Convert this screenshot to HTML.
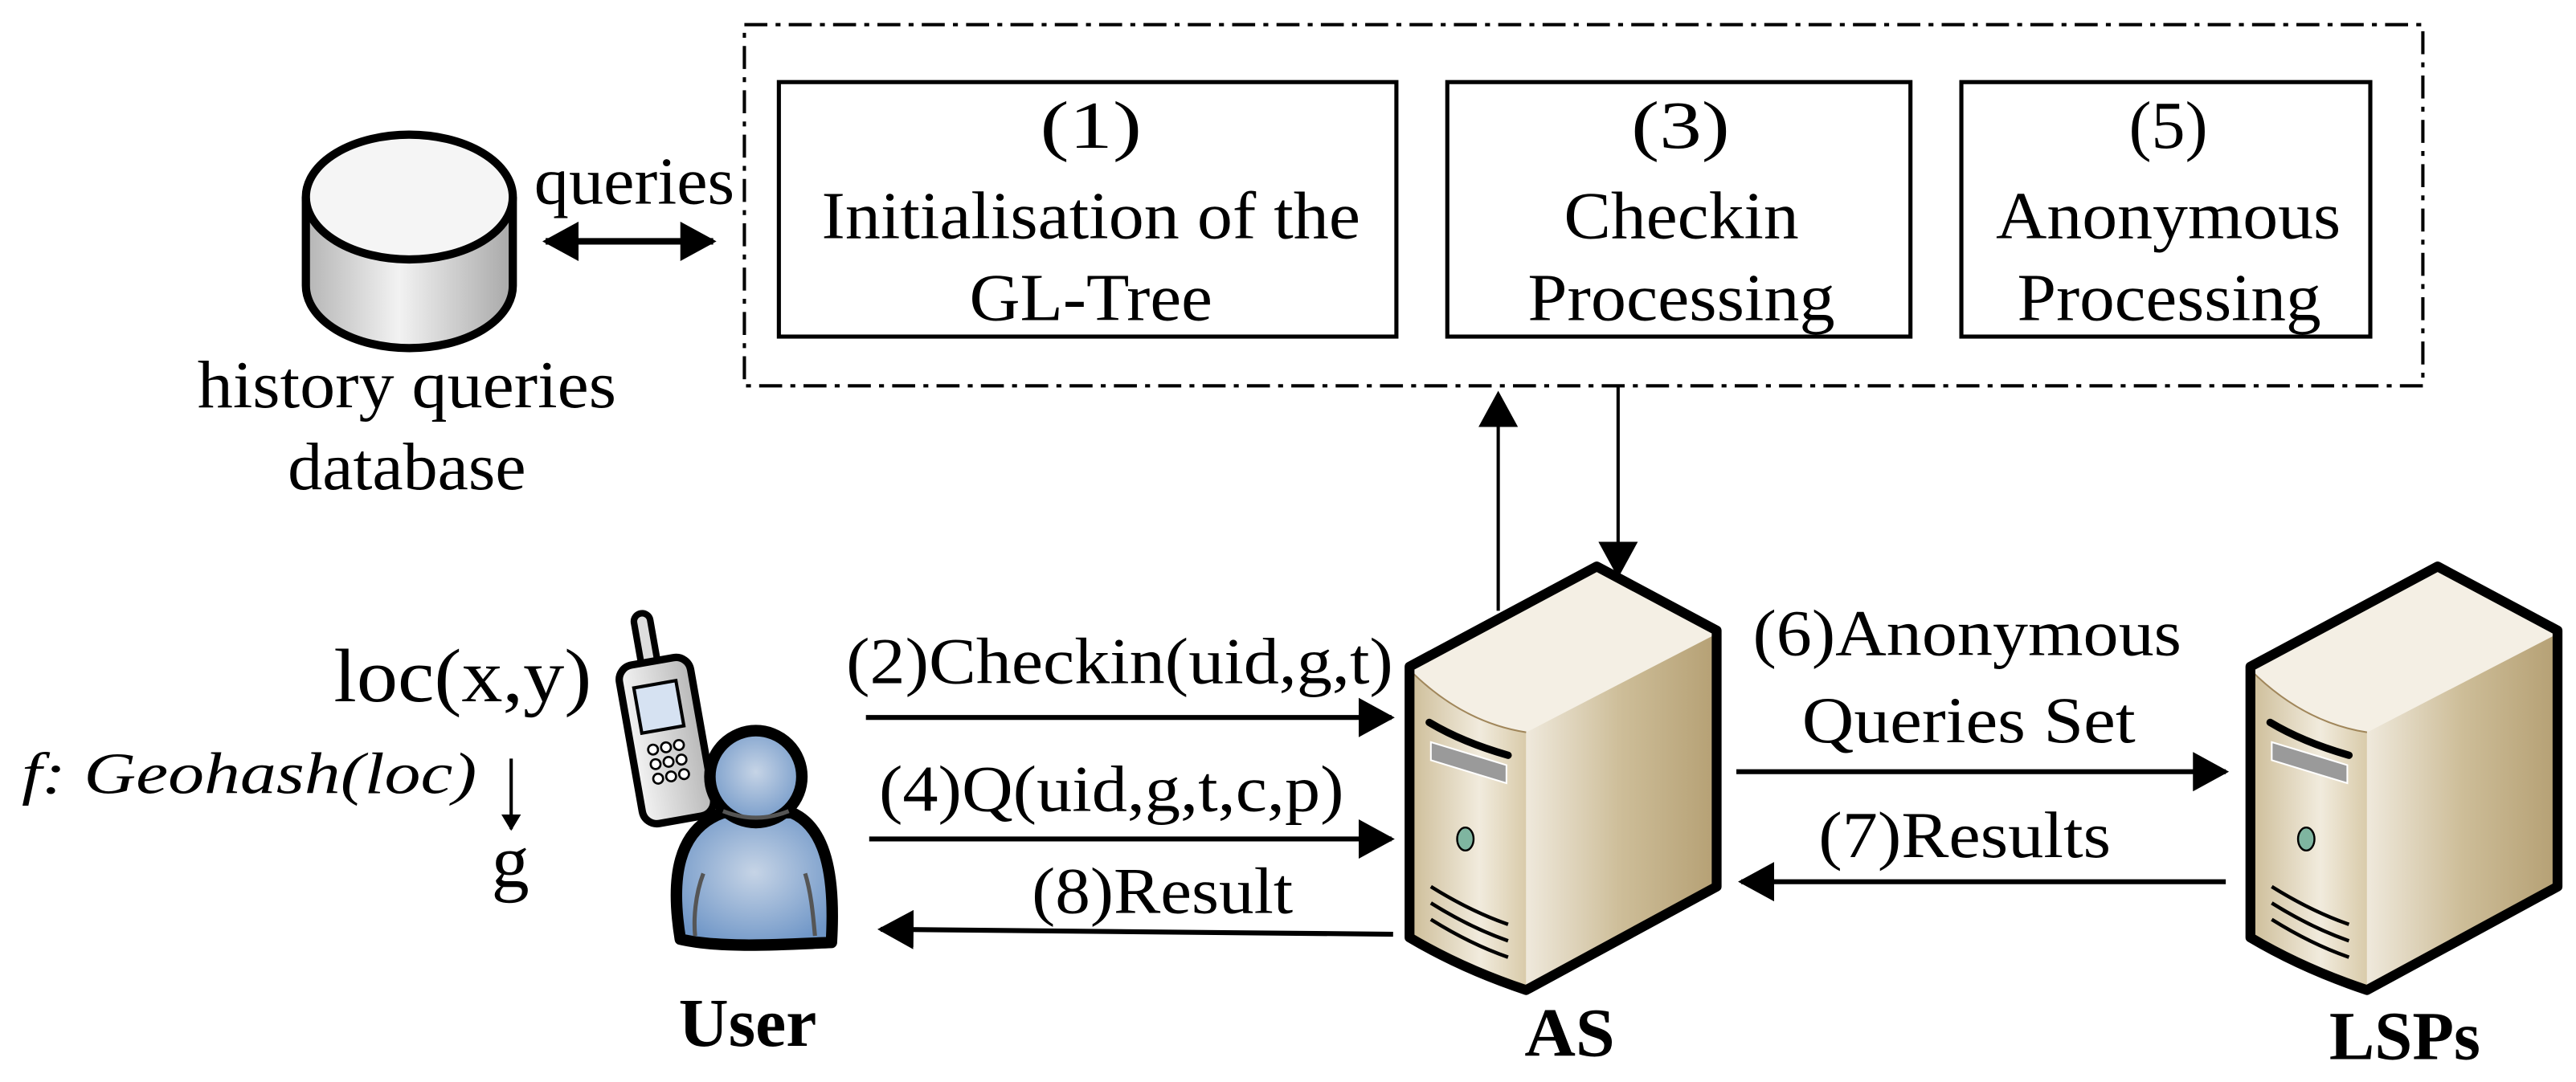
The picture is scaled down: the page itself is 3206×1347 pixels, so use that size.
<!DOCTYPE html>
<html><head><meta charset="utf-8"><style>
html,body{margin:0;padding:0;background:#fff}
svg{display:block}
text{font-family:"Liberation Serif",serif;fill:#000}
</style></head><body>
<svg width="3206" height="1347" viewBox="0 0 1568 659" xmlns="http://www.w3.org/2000/svg">
<defs>
<marker id="ah" markerWidth="10" markerHeight="12" refX="9" refY="6" orient="auto" markerUnits="userSpaceOnUse" viewBox="0 0 10 12"><path d="M0,0 L10,6 L0,12 z" fill="#000"/></marker>
<marker id="ahb" markerWidth="22" markerHeight="24" refX="20" refY="12" orient="auto-start-reverse" markerUnits="userSpaceOnUse" viewBox="0 0 22 24"><path d="M0,0 L22,12 L0,24 z" fill="#000"/></marker>
<linearGradient id="cyl" x1="0" x2="1"><stop offset="0" stop-color="#b5b5b5"/><stop offset="0.45" stop-color="#f2f2f2"/><stop offset="1" stop-color="#a8a8a8"/></linearGradient>
<linearGradient id="front" x1="0" x2="1"><stop offset="0" stop-color="#cdbd98"/><stop offset="0.6" stop-color="#f1ebdd"/><stop offset="1" stop-color="#d9cbaa"/></linearGradient>
<linearGradient id="side" x1="0" y1="0" x2="1" y2="0"><stop offset="0" stop-color="#efe9dc"/><stop offset="0.5" stop-color="#cdbd98"/><stop offset="1" stop-color="#b5a074"/></linearGradient>
<radialGradient id="usr" cx="0.5" cy="0.45" r="0.6"><stop offset="0" stop-color="#c6d4e6"/><stop offset="1" stop-color="#6f96c7"/></radialGradient>
<linearGradient id="ph" x1="0" x2="1"><stop offset="0" stop-color="#f4f4f4"/><stop offset="1" stop-color="#b8b8b8"/></linearGradient>
<g id="server">
<path d="M858,408 L972,347 L1045,386 L929,446 Q890,440 858,408 Z" fill="#f4efe4"/>
<path d="M858,408 Q890,440 929,446 L929,603 L858,571 Z" fill="url(#front)"/>
<path d="M929,446 L1045,386 L1045,540 L929,603 Z" fill="url(#side)"/>
<path d="M858,408 Q890,440 929,446" fill="none" stroke="#a0865a" stroke-width="1"/>
<path d="M858,406 L972,345 L1045,384 L1045,540 L929,603 Q890,590 858,571 Z" fill="none" stroke="#000" stroke-width="6" stroke-linejoin="round"/>
<path d="M870,440 Q890,452 918,460" stroke="#000" stroke-width="4.5" fill="none" stroke-linecap="round"/>
<path d="M871,452 L917,466 L917,477 L871,463 Z" fill="#9a9a9a" stroke="#fff" stroke-width="1"/>
<ellipse cx="892" cy="511" rx="5" ry="7" fill="#7fb5a0" stroke="#000" stroke-width="1.2"/>
<g stroke="#000" stroke-width="2.2" fill="none"><path d="M871,540 Q895,555 918,563"/><path d="M871,550 Q895,565 918,573"/><path d="M871,560 Q895,575 918,583"/></g>
</g>
</defs>

<!-- dash-dot box -->
<rect x="453" y="15" width="1022" height="220" fill="none" stroke="#000" stroke-width="2" stroke-dasharray="14,5,3,5"/>
<rect x="474" y="50" width="376" height="155" fill="#fff" stroke="#000" stroke-width="2.5"/>
<rect x="881" y="50" width="282" height="155" fill="#fff" stroke="#000" stroke-width="2.5"/>
<rect x="1194" y="50" width="249" height="155" fill="#fff" stroke="#000" stroke-width="2.5"/>
<g font-size="41">
<text x="633" y="90" textLength="62" lengthAdjust="spacingAndGlyphs">(1)</text>
<text x="500" y="145" textLength="328" lengthAdjust="spacingAndGlyphs">Initialisation of the</text>
<text x="590" y="195" textLength="148" lengthAdjust="spacingAndGlyphs">GL-Tree</text>
<text x="993" y="90" textLength="60" lengthAdjust="spacingAndGlyphs">(3)</text>
<text x="952" y="145" textLength="143" lengthAdjust="spacingAndGlyphs">Checkin</text>
<text x="930" y="195" textLength="187" lengthAdjust="spacingAndGlyphs">Processing</text>
<text x="1296" y="90" textLength="48" lengthAdjust="spacingAndGlyphs">(5)</text>
<text x="1215" y="145" textLength="210" lengthAdjust="spacingAndGlyphs">Anonymous</text>
<text x="1228" y="195" textLength="185" lengthAdjust="spacingAndGlyphs">Processing</text>
</g>

<!-- cylinder -->
<path d="M186,120 L186,174 A63,38 0 0 0 312,174 L312,120" fill="url(#cyl)" stroke="#000" stroke-width="5"/>
<ellipse cx="249" cy="120" rx="63" ry="38" fill="#f5f5f5" stroke="#000" stroke-width="5"/>
<text x="325" y="124" font-size="41" textLength="122" lengthAdjust="spacingAndGlyphs">queries</text>
<line x1="332" y1="147" x2="434" y2="147" stroke="#000" stroke-width="4" marker-start="url(#ahb)" marker-end="url(#ahb)"/>
<text x="120" y="248" font-size="41" textLength="255" lengthAdjust="spacingAndGlyphs">history queries</text>
<text x="175" y="298" font-size="41" textLength="145" lengthAdjust="spacingAndGlyphs">database</text>

<!-- vertical arrows -->
<line x1="912" y1="372" x2="912" y2="240" stroke="#000" stroke-width="2" marker-end="url(#ahb)"/>
<line x1="985" y1="235" x2="985" y2="350" stroke="#000" stroke-width="2" marker-end="url(#ahb)"/>

<!-- servers -->
<use href="#server"/>
<use href="#server" transform="translate(512,0)"/>

<!-- horizontal arrows -->
<g stroke="#000" stroke-width="3">
<line x1="527" y1="437" x2="847" y2="437" marker-end="url(#ahb)"/>
<line x1="529" y1="511" x2="847" y2="511" marker-end="url(#ahb)"/>
<line x1="848" y1="569" x2="536" y2="566" marker-end="url(#ahb)"/>
<line x1="1057" y1="470" x2="1355" y2="470" marker-end="url(#ahb)"/>
<line x1="1355" y1="537" x2="1060" y2="537" marker-end="url(#ahb)"/>
</g>
<g font-size="40">
<text x="515" y="416" textLength="333" lengthAdjust="spacingAndGlyphs">(2)Checkin(uid,g,t)</text>
<text x="535" y="494" textLength="283" lengthAdjust="spacingAndGlyphs">(4)Q(uid,g,t,c,p)</text>
<text x="628" y="556" textLength="159" lengthAdjust="spacingAndGlyphs">(8)Result</text>
<text x="1067" y="399" textLength="261" lengthAdjust="spacingAndGlyphs">(6)Anonymous</text>
<text x="1097" y="452" textLength="203" lengthAdjust="spacingAndGlyphs">Queries Set</text>
<text x="1107" y="522" textLength="178" lengthAdjust="spacingAndGlyphs">(7)Results</text>
</g>

<!-- left text -->
<text x="203" y="427" font-size="46" textLength="157" lengthAdjust="spacingAndGlyphs">loc(x,y)</text>
<text x="13" y="483" font-size="36" font-style="italic" textLength="277" lengthAdjust="spacingAndGlyphs">f: Geohash(loc)</text>
<line x1="311" y1="462" x2="311" y2="505" stroke="#000" stroke-width="2" marker-end="url(#ah)"/>
<text x="299" y="540" font-size="46">g</text>

<!-- phone -->
<g transform="rotate(-10 407 465)">
<rect x="401" y="372" width="10" height="34" rx="5" fill="#ddd" stroke="#000" stroke-width="4"/>
<rect x="386" y="402" width="44" height="98" rx="9" fill="url(#ph)" stroke="#000" stroke-width="4.5"/>
<rect x="394" y="416" width="26" height="28" fill="#d6e2f2" stroke="#000" stroke-width="2"/>
<g fill="#fff" stroke="#000" stroke-width="1.3">
<circle cx="399" cy="455" r="3"/><circle cx="407" cy="455" r="3"/><circle cx="415" cy="455" r="3"/>
<circle cx="399" cy="464" r="3"/><circle cx="407" cy="464" r="3"/><circle cx="415" cy="464" r="3"/>
<circle cx="399" cy="473" r="3"/><circle cx="407" cy="473" r="3"/><circle cx="415" cy="473" r="3"/>
</g>
</g>
<!-- user -->
<path d="M414,572 C408,535 412,505 440,495 L482,495 C505,505 508,540 506,574 C480,575 440,578 414,572 Z" fill="url(#usr)" stroke="#000" stroke-width="7" stroke-linejoin="round"/>
<path d="M428,532 C423,545 422,560 423,570" stroke="#555" stroke-width="2.5" fill="none"/>
<path d="M490,532 C494,545 495,560 496,570" stroke="#555" stroke-width="2.5" fill="none"/>
<circle cx="460" cy="473" r="28" fill="url(#usr)" stroke="#000" stroke-width="7"/>
<path d="M440,494 Q460,502 480,494" stroke="#555" stroke-width="2.5" fill="none"/>

<g font-size="42" font-weight="bold">
<text x="413" y="637" textLength="84" lengthAdjust="spacingAndGlyphs">User</text>
<text x="928" y="643" textLength="55" lengthAdjust="spacingAndGlyphs">AS</text>
<text x="1418" y="645" textLength="92" lengthAdjust="spacingAndGlyphs">LSPs</text>
</g>
</svg>
</body></html>
